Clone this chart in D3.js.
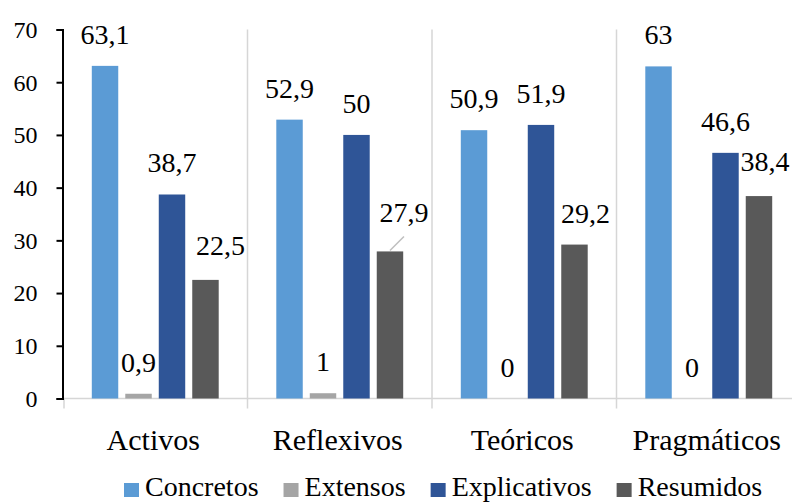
<!DOCTYPE html>
<html><head><meta charset="utf-8">
<script src="https://cdn.jsdelivr.net/npm/d3@7"></script>
<style>html,body{margin:0;padding:0;background:#fff;overflow:hidden}
#c, #c text{font-family:"Liberation Serif" !important}</style>
</head><body><svg id="c" width="792" height="502" font-family="Liberation Serif" style="font-family:'Liberation Serif'"></svg>
<script>
const categories = ["Activos", "Reflexivos", "Teóricos", "Pragmáticos"];
const seriesNames = ["Concretos", "Extensos", "Explicativos", "Resumidos"];
const concretos = [63.1, 52.9, 50.9, 63];
const extensos = [0.9, 1, 0, 0];
const explicativos = [38.7, 50, 51.9, 46.6];
const resumidos = [22.5, 27.9, 29.2, 38.4];
const yTicks = [0, 10, 20, 30, 40, 50, 60, 70];
const colors = ["#5B9BD5", "#A5A5A5", "#2F5597", "#595959"];

const seriesValues = [concretos, extensos, explicativos, resumidos];
const svg = d3.select("#c");

const y = d3.scaleLinear().domain([0, 70]).range([398.5, 29.5]);
const x0 = d3.scaleBand().domain(categories).range([63, 801]).padding(0);
const x1 = d3.scaleBand().domain(seriesNames).range([0, x0.bandwidth()])
  .paddingInner(0.21).paddingOuter(0.86);

// vertical dividers
const bounds = categories.slice(1).map(c => x0(c));
svg.append("g").selectAll("line").data(bounds).join("line")
  .attr("x1", d => d).attr("x2", d => d)
  .attr("y1", y(70)).attr("y2", y(0) + 10)
  .attr("stroke", "#d6d6d6").attr("stroke-width", 1.5);
// x baseline
svg.append("line").attr("x1", x0.range()[0]).attr("x2", x0.range()[1])
  .attr("y1", y(0)).attr("y2", y(0)).attr("stroke", "#d6d6d6").attr("stroke-width", 1.5);
svg.append("line").attr("x1", x0.range()[0] + 1).attr("x2", x0.range()[0] + 1)
  .attr("y1", y(0)).attr("y2", y(0) + 10).attr("stroke", "#d6d6d6").attr("stroke-width", 1.5);

// bars
const rows = [];
categories.forEach((c, i) => seriesNames.forEach((s, j) => rows.push({c, s, j, v: seriesValues[j][i]})));
svg.append("g").selectAll("rect").data(rows).join("rect")
  .attr("x", d => x0(d.c) + x1(d.s))
  .attr("y", d => y(d.v))
  .attr("width", x1.bandwidth())
  .attr("height", d => y(0) - y(d.v))
  .attr("fill", d => colors[d.j]);

// labels
const nudge = {
  "Activos|Resumidos": [15, -3],
  "Reflexivos|Resumidos": [14, -7],
  "Teóricos|Resumidos": [11, 0],
  "Pragmáticos|Resumidos": [6, -3]
};
const fmt = v => String(v).replace(".", ",");
rows.forEach(d => {
  const n = nudge[d.c + "|" + d.s] || [0, 0];
  const cx = x0(d.c) + x1(d.s) + x1.bandwidth() / 2;
  const by = y(d.v) - 22 + n[1];
  svg.append("text").attr("x", cx + n[0]).attr("y", by)
    .attr("text-anchor", "middle").attr("font-size", 28)
    .attr("fill", "#000").text(fmt(d.v));
  if (d.c === "Reflexivos" && d.s === "Resumidos") {
    svg.append("line").attr("x1", cx).attr("y1", y(d.v) - 1)
      .attr("x2", cx + n[0]).attr("y2", y(d.v) - 15)
      .attr("stroke", "#bfbfbf").attr("stroke-width", 1.5);
  }
});

// y axis
const yAxis = svg.append("g").attr("transform", "translate(62.5,0)")
  .call(d3.axisLeft(y).tickValues(yTicks).tickSize(6).tickPadding(19).tickFormat(d3.format("d")));
yAxis.attr("font-family", null).attr("font-size", null);
yAxis.select(".domain").attr("stroke", "#000").attr("stroke-width", 2);
yAxis.selectAll(".tick line").attr("stroke", "#000").attr("stroke-width", 2);
yAxis.selectAll("text").attr("font-size", 24).attr("fill", "#000").attr("dy", "0.33em");

// category labels
svg.append("g").selectAll("text").data(categories).join("text")
  .attr("x", d => x0(d) + x0.bandwidth() / 2 - 2)
  .attr("y", 450)
  .attr("text-anchor", "middle").attr("font-size", 30)
  .attr("fill", "#000").text(d => d);

// legend
let lx = 124;
seriesNames.forEach((s, j) => {
  svg.append("rect").attr("x", lx).attr("y", 483).attr("width", 15).attr("height", 14).attr("fill", colors[j]);
  const t = svg.append("text").attr("x", lx + 21).attr("y", 496)
    .attr("font-size", 28).attr("fill", "#000").text(s);
  lx += 21 + t.node().getComputedTextLength() + 25;
});
</script></body></html>
